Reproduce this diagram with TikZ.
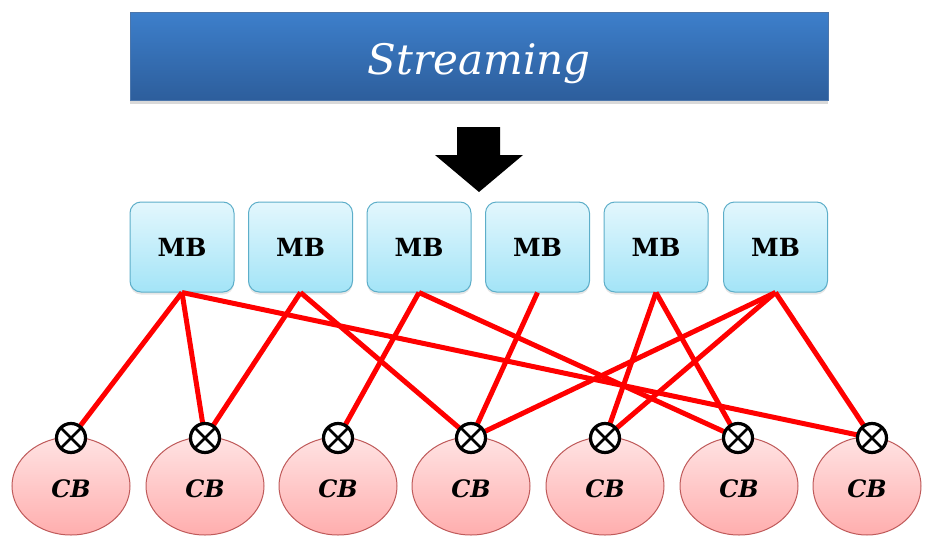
\documentclass[tikz,border=0pt]{standalone}
\usepackage{fontspec}
\setmainfont{DejaVu Serif}
\usetikzlibrary{shadows,shapes.geometric}
\definecolor{bannertop}{HTML}{3D7FCB}
\definecolor{bannerbot}{HTML}{2D5E9C}
\definecolor{mbtop}{HTML}{E3F7FD}
\definecolor{mbbot}{HTML}{A3E4F7}
\definecolor{mbedge}{HTML}{5DAEC9}
\definecolor{cbtop}{HTML}{FFE3E3}
\definecolor{cbbot}{HTML}{FFAEAE}
\definecolor{cbedge}{HTML}{BF5A5A}
\definecolor{link}{HTML}{FF0000}
\newcommand{\lowered}[2]{\smash{\raisebox{-#1}{#2}}}
\tikzset{
  banner/.style={draw=bannerbot!85!white, line width=0.6pt,
    top color=bannertop, bottom color=bannerbot,
    minimum width=698pt, minimum height=88pt, inner sep=0pt,
    drop shadow={shadow xshift=0pt, shadow yshift=-4pt, opacity=0.3},
    text=white, font=\itshape\fontsize{42}{42}\selectfont},
  mbbox/.style={rounded corners=11pt, draw=mbedge, line width=1pt,
    top color=mbtop, bottom color=mbbot,
    minimum width=104pt, minimum height=90pt, inner sep=0pt,
    drop shadow={shadow xshift=0pt, shadow yshift=-2.5pt, opacity=0.2},
    font=\bfseries\fontsize{25}{25}\selectfont},
  cbnode/.style={ellipse, draw=cbedge, line width=1pt,
    top color=cbtop, bottom color=cbbot,
    minimum width=118pt, minimum height=98pt, inner sep=0pt,
    font=\bfseries\itshape\fontsize{24}{24}\selectfont},
  mixer/.style={circle, draw=black, line width=3.2pt, fill=white,
    minimum size=29pt, inner sep=0pt,
    path picture={
      \draw[line width=2.8pt]
        (path picture bounding box.north west) -- (path picture bounding box.south east)
        (path picture bounding box.north east) -- (path picture bounding box.south west);}},
  link/.style={draw=link, line width=5pt}
}
\begin{document}
\begin{tikzpicture}[x=1pt,y=-1pt]
\useasboundingbox (0,0) rectangle (926,538);

% title banner
\node[banner] (title) at (479,56) {\lowered{18pt}{Streaming}};

% block arrow pointing down
\fill[black] (457,127) -- (500,127) -- (500,155) -- (523,155)
  -- (479,192) -- (435,155) -- (457,155) -- cycle;

% MB boxes
\foreach \i/\x in {1/182,2/300.5,3/419,4/537.5,5/656,6/775.5}
  \node[mbbox] (mb\i) at (\x,247) {MB};

% CB ellipses
\foreach \i/\x in {1/71,2/205,3/338,4/471,5/605,6/739}
  \node[cbnode] (cb\i) at (\x,486) {\lowered{11pt}{CB}};
\node[cbnode, minimum width=108pt] (cb7) at (867,486) {\lowered{11pt}{CB}};

% combiner points on top of each CB
\foreach \i/\x in {1/71,2/205,3/338,4/471,5/605,6/738,7/872}
  \coordinate (p\i) at (\x,438);

% connections
\draw[link] (mb1.south) -- (p1);
\draw[link] (mb1.south) -- (p2);
\draw[link] (mb1.south) -- (p7);
\draw[link] (mb2.south) -- (p2);
\draw[link] (mb2.south) -- (p4);
\draw[link] (mb3.south) -- (p3);
\draw[link] (mb3.south) -- (p6);
\draw[link] (mb4.south) -- (p4);
\draw[link] (mb5.south) -- (p5);
\draw[link] (mb5.south) -- (p6);
\draw[link] (mb6.south) -- (p4);
\draw[link] (mb6.south) -- (p5);
\draw[link] (mb6.south) -- (p7);

% combiner symbols
\foreach \i in {1,...,7}
  \node[mixer] (x\i) at (p\i) {};
\end{tikzpicture}
\end{document}
